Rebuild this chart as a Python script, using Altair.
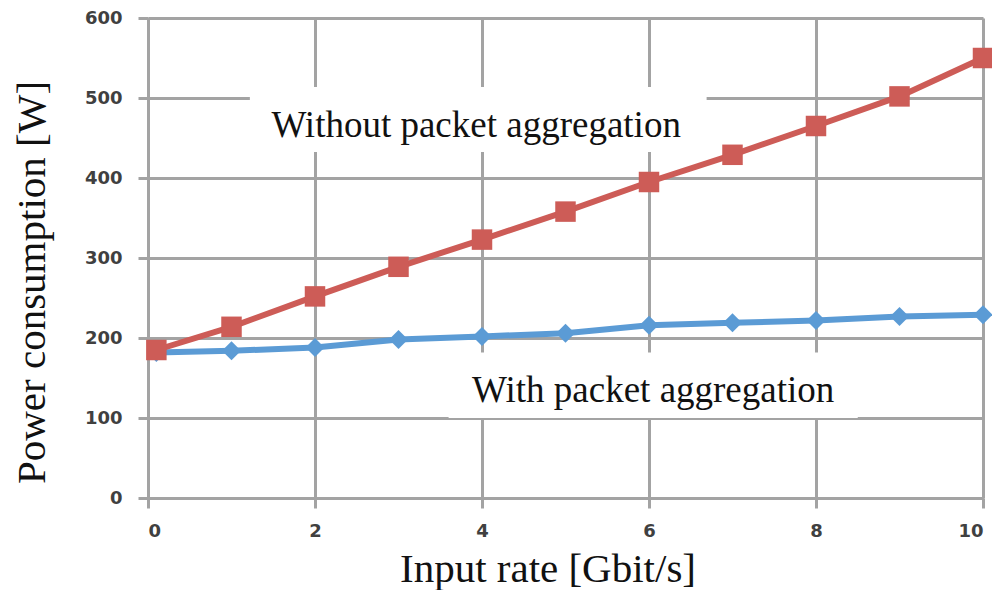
import altair as alt
import pandas as pd

# Data
x_rate = [0.1, 1, 2, 3, 4, 5, 6, 7, 8, 9, 10]
without_agg = [185, 214, 252, 289, 323, 358, 395, 429, 465, 502, 550]
with_agg = [182, 184, 188, 198, 202, 206, 216, 219, 222, 227, 229]

label_text = ["Without packet aggregation", "With packet aggregation"]
label_x = [3.93, 6.05]
label_y = [451, 120]
box_x = [1.22, 3.6]
box_x2 = [6.69, 8.5]
box_y = [432.5, 100]
box_y2 = [513.75, 182]

RED = "#CD5C57"
BLUE = "#5B9BD5"
GRID = "#A3A3A3"

df_red = pd.DataFrame({"x": x_rate, "y": without_agg})
df_blue = pd.DataFrame({"x": x_rate, "y": with_agg})
df_lab = pd.DataFrame({"t": label_text, "x": label_x, "y": label_y})
df_box = pd.DataFrame({"x": box_x, "x2": box_x2, "y": box_y, "y2": box_y2})

xscale = alt.Scale(domain=[0, 10], nice=False, zero=False)
yscale = alt.Scale(domain=[0, 600], nice=False)

xaxis = alt.Axis(
    values=[0, 2, 4, 6, 8, 10], format="d", title="Input rate [Gbit/s]",
    grid=True, gridColor=GRID, gridWidth=3, gridOpacity=1,
    domainColor=GRID, domainWidth=3, tickColor=GRID, tickWidth=3, tickSize=10,
    labelFont="DejaVu Sans", labelFontSize=18, labelFontWeight="bold", labelColor="#404040",
    labelPadding=14, labelBaseline="top",
    titleFont="Liberation Serif", titleFontSize=41, titleFontWeight="normal", titleColor="#111111",
    titleX=399.5, titleY=83, titleBaseline="alphabetic", titleAlign="center",
)
yaxis = alt.Axis(
    values=[0, 100, 200, 300, 400, 500, 600], format="d", title="Power consumption [W]",
    grid=True, gridColor=GRID, gridWidth=3, gridOpacity=1,
    domainColor=GRID, domainWidth=3, tickColor=GRID, tickWidth=3, tickSize=10,
    labelFont="DejaVu Sans", labelFontSize=18, labelFontWeight="bold", labelColor="#404040",
    labelPadding=16,
    titleFont="Liberation Serif", titleFontSize=41, titleFontWeight="normal", titleColor="#111111",
    titleX=-104, titleY=264, titleAngle=270, titleBaseline="alphabetic", titleAlign="center",
)

boxes = alt.Chart(df_box).mark_rect(color="white").encode(
    x=alt.X("x:Q", scale=xscale, axis=xaxis), x2="x2:Q",
    y=alt.Y("y:Q", scale=yscale, axis=yaxis), y2="y2:Q",
)

red_line = alt.Chart(df_red).mark_line(color=RED, strokeWidth=6).encode(
    x=alt.X("x:Q", scale=xscale), y=alt.Y("y:Q", scale=yscale))
red_pts = alt.Chart(df_red).mark_point(shape="square", filled=True, color=RED, size=420, opacity=1).encode(
    x=alt.X("x:Q", scale=xscale), y=alt.Y("y:Q", scale=yscale))
blue_line = alt.Chart(df_blue).mark_line(color=BLUE, strokeWidth=6).encode(
    x=alt.X("x:Q", scale=xscale), y=alt.Y("y:Q", scale=yscale))
blue_pts = alt.Chart(df_blue).mark_point(shape="diamond", filled=True, color=BLUE, size=360, opacity=1).encode(
    x=alt.X("x:Q", scale=xscale), y=alt.Y("y:Q", scale=yscale))

labels = alt.Chart(df_lab).mark_text(
    font="Liberation Serif", fontSize=37, color="#111111", align="center", baseline="alphabetic"
).encode(x=alt.X("x:Q", scale=xscale), y=alt.Y("y:Q", scale=yscale), text="t:N")

chart = alt.layer(boxes, blue_line, red_line, blue_pts, red_pts, labels).properties(
    width=835, height=480,
    autosize=alt.AutoSizeParams(type="none"),
    padding={"left": 140, "top": 10, "right": 9, "bottom": 92},
).configure_view(stroke=None).configure(background="white")

chart.save("out.html", embed_options={"renderer": "svg", "actions": False})
